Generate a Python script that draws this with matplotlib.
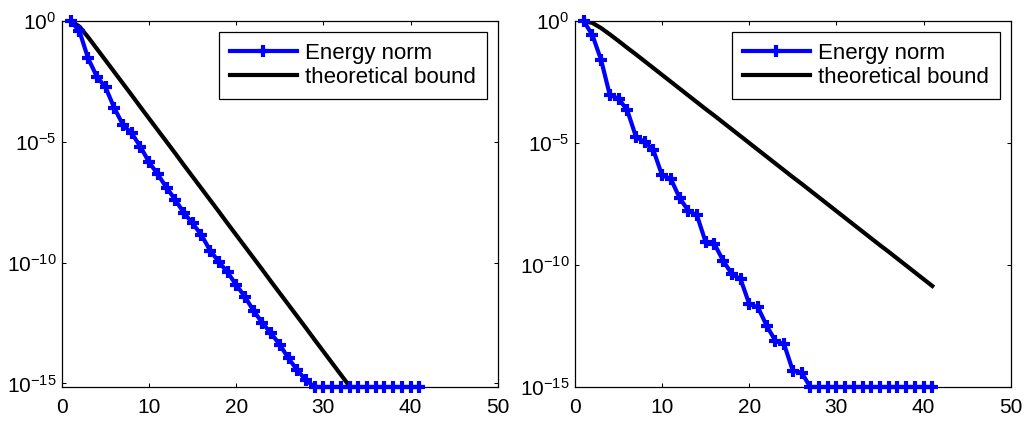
import numpy as np
import matplotlib
matplotlib.use('Agg')
import matplotlib.pyplot as plt
from matplotlib.ticker import FixedLocator, NullLocator, LogFormatterSciNotation

plt.rcParams['font.family'] = ['Liberation Sans', 'DejaVu Sans']
plt.rcParams['mathtext.fontset'] = 'custom'
plt.rcParams['mathtext.rm'] = 'Liberation Sans'
plt.rcParams['mathtext.it'] = 'Liberation Sans:italic'
plt.rcParams['mathtext.bf'] = 'Liberation Sans:bold'

# ---- data (log10 of values) ----
iterations = list(range(1, 42))

left_energy_exp = [0, -0.42, -1.55, -2.3, -2.75, -3.6, -4.3, -4.65, -5.2, -5.85,
                   -6.35, -6.9, -7.4, -7.95, -8.38, -8.86, -9.5, -9.97, -10.4, -10.93,
                   -11.42, -12.0, -12.5, -12.93, -13.4, -13.97, -14.45, -14.87,
                   -15.15, -15.15, -15.15, -15.15, -15.15, -15.15, -15.15, -15.15,
                   -15.15, -15.15, -15.15, -15.15, -15.15]
left_bound_exp = [0, -0.23, -0.67, -1.15, -1.63, -2.11, -2.59, -3.07, -3.56, -4.04,
                  -4.52, -5.0, -5.48, -5.97, -6.45, -6.93, -7.41, -7.89, -8.38, -8.86,
                  -9.34, -9.82, -10.3, -10.79, -11.27, -11.75, -12.23, -12.71, -13.2,
                  -13.68, -14.16, -14.64, -15.12, -15.61]

right_energy_exp = [0, -0.58, -1.6, -3.04, -3.18, -3.66, -4.75, -4.96, -5.3, -6.33,
                    -6.47, -7.25, -7.77, -7.97, -9.07, -9.14, -9.82, -10.37, -10.58, -11.6,
                    -11.74, -12.49, -13.11, -13.25, -14.34, -14.41,
                    -15.0, -15.0, -15.0, -15.0, -15.0, -15.0, -15.0, -15.0, -15.0,
                    -15.0, -15.0, -15.0, -15.0, -15.0, -15.0]
right_bound_exp = [0, -0.08, -0.29, -0.55, -0.82, -1.1, -1.37, -1.65, -1.93, -2.21,
                   -2.49, -2.77, -3.05, -3.33, -3.61, -3.88, -4.16, -4.44, -4.72, -5.0,
                   -5.28, -5.56, -5.84, -6.12, -6.4, -6.67, -6.95, -7.23, -7.51, -7.79,
                   -8.07, -8.35, -8.63, -8.91, -9.19, -9.46, -9.74, -10.02, -10.3, -10.58,
                   -10.86]

x_ticks = [0, 10, 20, 30, 40, 50]
y_ticks = [1e-15, 1e-10, 1e-5, 1e0]
labels = ['Energy norm', 'theoretical bound']

panels = [
    (left_energy_exp, left_bound_exp, -15.15),
    (right_energy_exp, right_bound_exp, -15.0),
]

fig = plt.figure(figsize=(10.33, 4.21), dpi=100)
positions = [[62 / 1033, 34 / 421, 435.7 / 1033, 366 / 421],
             [575 / 1033, 34 / 421, 435.7 / 1033, 366 / 421]]

for pos, (e_exp, b_exp, ymin_exp) in zip(positions, panels):
    ax = fig.add_axes(pos)
    e_vals = 10.0 ** np.array(e_exp)
    b_vals = 10.0 ** np.array(b_exp)
    ax.semilogy(iterations, e_vals, color=(0, 0, 1), lw=3, marker='+',
                ms=9, mew=3, label=labels[0], clip_on=False, zorder=3)
    ax.semilogy(iterations[:len(b_vals)], b_vals, color='black', lw=3,
                label=labels[1], zorder=2)
    ax.set_xlim(0, 50)
    ax.set_ylim(10.0 ** ymin_exp, 1.0)
    ax.xaxis.set_major_locator(FixedLocator(x_ticks))
    ax.yaxis.set_major_locator(FixedLocator(y_ticks))
    ax.yaxis.set_minor_locator(NullLocator())
    ax.yaxis.set_major_formatter(LogFormatterSciNotation())
    ax.tick_params(which='both', direction='in', top=True, right=True,
                   length=3, width=0.75, labelsize=15)
    ax.tick_params(axis='x', pad=8)
    ax.tick_params(axis='y', pad=4)
    for s in ax.spines.values():
        s.set_linewidth(0.9)
    leg = ax.legend(loc='upper right', fontsize=16, frameon=True, fancybox=False,
                    edgecolor='black', framealpha=1, handlelength=3.0,
                    handletextpad=0.35, borderaxespad=0.5, labelspacing=0.12,
                    borderpad=0.5)
    leg.get_frame().set_linewidth(0.9)

fig.savefig('out.png', dpi=100)
